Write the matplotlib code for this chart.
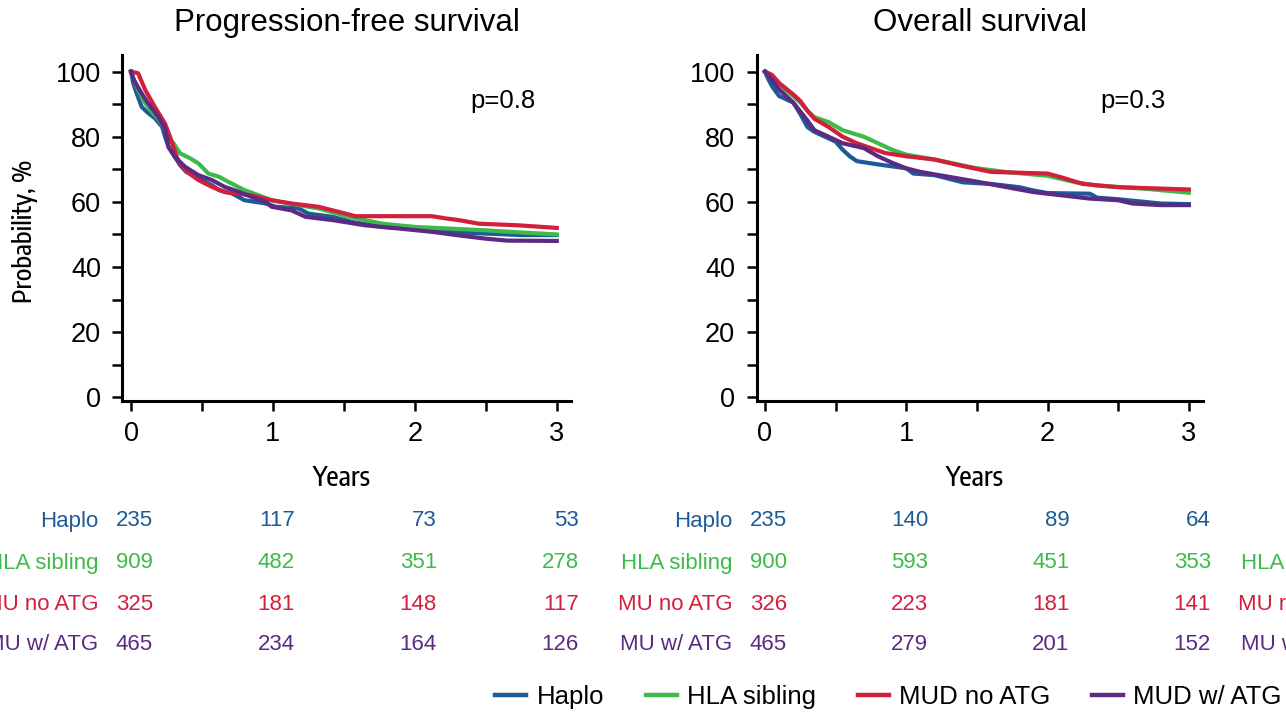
import matplotlib
matplotlib.use("Agg")
import matplotlib.pyplot as plt
from matplotlib import font_manager
from matplotlib.font_manager import FontProperties
from matplotlib.transforms import blended_transform_factory
from matplotlib.lines import Line2D

# ---------------- data ----------------
groups = ["Haplo", "HLA sibling", "MUD no ATG", "MUD w/ ATG"]
table_labels = ["Haplo", "HLA sibling", "MU no ATG", "MU w/ ATG"]
colors = ["#1d5a96", "#3dba4a", "#d21f3c", "#5b2a82"]
panel_titles = ["Progression-free survival", "Overall survival"]
p_values = ["p=0.8", "p=0.3"]
x_ticks = [0, 1, 2, 3]

# PFS curves (years, %)
haplo_pfs_t = [0, 0.016, 0.04, 0.075, 0.11, 0.17, 0.22, 0.24, 0.264, 0.3, 0.345, 0.39, 0.475, 0.57, 0.62, 0.71, 0.8, 0.95, 1.02, 1.18, 1.25, 1.42, 1.56, 1.77, 2.0, 2.24, 2.48, 2.75, 3.0]
haplo_pfs_s = [100, 96.4, 93.3, 89.2, 87.7, 85.6, 83, 80, 76.9, 74.4, 71.3, 69.2, 67.2, 65.1, 63.6, 62.6, 60.5, 59.5, 58.5, 58, 56.4, 55.4, 53.8, 52.3, 51.8, 50.8, 50.3, 49.8, 49.8]
sib_pfs_t = [0, 0.02, 0.05, 0.09, 0.14, 0.2, 0.24, 0.275, 0.3, 0.345, 0.42, 0.475, 0.545, 0.62, 0.71, 0.8, 0.9, 0.99, 1.18, 1.32, 1.53, 1.77, 2.0, 2.24, 2.48, 2.75, 3.0]
sib_pfs_s = [100, 97.5, 94.5, 91, 88, 85, 82.5, 79, 78, 74.9, 73.3, 71.8, 68.7, 67.7, 65.6, 63.6, 62, 60.5, 59, 58, 55.5, 53.3, 52.3, 51.8, 51.3, 50.6, 50]
mudno_pfs_t = [0, 0.05, 0.1, 0.17, 0.24, 0.275, 0.29, 0.33, 0.38, 0.475, 0.57, 0.66, 0.85, 0.99, 1.13, 1.32, 1.51, 1.58, 2.12, 2.22, 2.31, 2.45, 2.73, 3.0]
mudno_pfs_s = [100, 99.5, 94.4, 89, 84, 80, 78, 72.8, 69.7, 66.7, 64.6, 63, 62, 60.5, 59.5, 58.5, 56.4, 55.6, 55.6, 54.9, 54.4, 53.3, 52.8, 52]
mudatg_pfs_t = [0, 0.02, 0.075, 0.12, 0.19, 0.24, 0.264, 0.31, 0.38, 0.475, 0.57, 0.66, 0.76, 0.85, 0.95, 0.99, 1.13, 1.23, 1.42, 1.65, 1.89, 2.12, 2.31, 2.5, 2.65, 3.0]
mudatg_pfs_s = [100, 97.4, 93.3, 90.3, 86.2, 82.6, 76.9, 73.8, 70.8, 68.2, 66.7, 64.6, 63.1, 61.5, 60, 58.5, 57.4, 55.4, 54.4, 52.8, 51.8, 50.8, 49.7, 48.7, 48.1, 48]

# OS curves (years, %)
haplo_os_t = [0, 0.02, 0.05, 0.1, 0.15, 0.2, 0.25, 0.3, 0.35, 0.4, 0.5, 0.55, 0.6, 0.65, 0.8, 1.0, 1.05, 1.2, 1.4, 1.6, 1.8, 1.9, 2.0, 2.3, 2.35, 2.5, 2.8, 3.0]
haplo_os_s = [100, 98, 95.5, 92.5, 91.5, 90.5, 87, 83, 81.5, 80.5, 78.5, 76, 74, 72.5, 71.5, 70.3, 68.7, 68.2, 66, 65.5, 64.5, 63.5, 62.7, 62.5, 61.3, 60.8, 59.5, 59.3]
sib_os_t = [0, 0.05, 0.1, 0.2, 0.25, 0.3, 0.35, 0.45, 0.55, 0.7, 0.8, 0.9, 1.0, 1.2, 1.5, 1.7, 2.0, 2.2, 2.35, 2.7, 3.0]
sib_os_s = [100, 98.5, 96, 92.5, 90.5, 88, 86, 84.5, 82, 80, 78, 76, 74.5, 73, 70.3, 69.2, 68, 66, 65, 64, 62.8]
mudno_os_t = [0, 0.05, 0.1, 0.2, 0.25, 0.3, 0.35, 0.45, 0.55, 0.65, 0.75, 0.85, 1.0, 1.2, 1.4, 1.6, 2.0, 2.1, 2.25, 2.5, 3.0]
mudno_os_s = [100, 99, 96.5, 93, 91, 88, 85.5, 83, 80, 78, 76.5, 75, 74, 73, 71, 69.2, 68.7, 67.5, 65.5, 64.5, 63.8]
mudatg_os_t = [0, 0.02, 0.05, 0.1, 0.2, 0.3, 0.35, 0.45, 0.55, 0.7, 0.8, 0.9, 1.0, 1.1, 1.3, 1.5, 1.7, 1.9, 2.1, 2.3, 2.5, 2.6, 2.8, 3.0]
mudatg_os_s = [100, 99, 97.5, 94.5, 90.5, 85, 82, 80, 78, 76.5, 74, 72, 70.3, 69.2, 67.7, 66.2, 64.6, 63, 62, 61, 60.5, 59.5, 59, 59]

# numbers at risk
pfs_risk = [[235, 117, 73, 53], [909, 482, 351, 278], [325, 181, 148, 117], [465, 234, 164, 126]]
os_risk = [[235, 140, 89, 64], [900, 593, 451, 353], [326, 223, 181, 141], [465, 279, 201, 152]]

# ---------------- fonts ----------------
names = {f.name for f in font_manager.fontManager.ttflist}
main_font = "Liberation Sans" if "Liberation Sans" in names else "DejaVu Sans"
plt.rcParams["font.family"] = [main_font, "DejaVu Sans"]


def _stretch_val(s):
    if isinstance(s, int):
        return s
    m = {"ultra-condensed": 100, "extra-condensed": 200, "condensed": 300,
         "semi-condensed": 400, "normal": 500}
    return m.get(str(s), 500)


def _weight_val(w):
    if isinstance(w, int):
        return w
    m = {"light": 300, "normal": 400, "regular": 400, "book": 400, "medium": 500,
         "semibold": 600, "demibold": 600, "bold": 700, "heavy": 800, "black": 900}
    return m.get(str(w), 400)


narrow_file = None
best = None
for f in font_manager.fontManager.ttflist:
    nm = f.name
    st = _stretch_val(f.stretch)
    is_narrow = ("Narrow" in nm or "Condensed" in nm or "Compressed" in nm or st < 500
                 or "Condensed" in f.fname or "Narrow" in f.fname)
    if not is_narrow or f.style != "normal" or "Mono" in nm or "Serif" in nm:
        continue
    score = abs(_weight_val(f.weight) - 500) + (0 if "Sans" in nm or "Roboto" in nm else 50)
    if best is None or score < best[0]:
        best = (score, f.fname)
if best is not None:
    narrow_file = best[1]

W, H = 1286, 712
fig = plt.figure(figsize=(W / 100, H / 100), dpi=100)


def narrow_props(size):
    if narrow_file:
        return FontProperties(fname=narrow_file, size=size)
    return FontProperties(family=main_font, size=size)


xlim = (-0.06, 3.10)
ylim = (-1.0, 105.1)
ax_px = [(122.5, 571.0), (756.5, 1203.0)]
top_px, bot_px = 55.0, 400.5

panels = [
    [(haplo_pfs_t, haplo_pfs_s), (sib_pfs_t, sib_pfs_s), (mudno_pfs_t, mudno_pfs_s), (mudatg_pfs_t, mudatg_pfs_s)],
    [(haplo_os_t, haplo_os_s), (sib_os_t, sib_os_s), (mudno_os_t, mudno_os_s), (mudatg_os_t, mudatg_os_s)],
]
risks = [pfs_risk, os_risk]
row_y = [521, 563, 604, 645]
years_x_px = [341.5, 975.0]
p_x_px = [503.0, 1133.0]

renderer = fig.canvas.get_renderer()

axes = []
for i in range(2):
    l, r = ax_px[i]
    ax = fig.add_axes([l / W, 1 - bot_px / H, (r - l) / W, (bot_px - top_px) / H])
    axes.append(ax)
    for k, (t, s) in enumerate(panels[i]):
        ax.plot(t, s, color=colors[k], lw=3.0, solid_joinstyle="round")
    ax.set_xlim(*xlim)
    ax.set_ylim(*ylim)
    ax.set_xticks([0, 0.5, 1, 1.5, 2, 2.5, 3])
    ax.set_xticklabels(["0", "", "1", "", "2", "", "3"])
    ax.set_yticks(range(0, 101, 10))
    ax.set_yticklabels([str(v) if v % 20 == 0 else "" for v in range(0, 101, 10)])
    for sp in ["top", "right"]:
        ax.spines[sp].set_visible(False)
    for sp in ["left", "bottom"]:
        ax.spines[sp].set_linewidth(2.2)
    ax.tick_params(axis="both", direction="out", length=7.5, width=1.8, labelsize=19.5)
    ax.tick_params(axis="x", pad=7)
    ax.tick_params(axis="y", pad=8)
    ax.set_title(panel_titles[i], fontsize=22.5, pad=17)

    trp = blended_transform_factory(fig.transFigure, fig.transFigure)
    ax.text(p_x_px[i] / W, 1 - 101 / H, p_values[i], transform=trp, fontsize=18.5,
            ha="center", va="center")

    ax.set_xlabel("Years", fontproperties=narrow_props(23))
    ax.xaxis.set_label_coords((years_x_px[i] - l) / (r - l), (bot_px - 478) / (bot_px - top_px))
    ax.xaxis.label.set_va("center")
    w = ax.xaxis.label.get_window_extent(renderer).width
    if w > 58:
        ax.xaxis.label.set_fontproperties(narrow_props(23 * 58 / w))

    tr = blended_transform_factory(ax.transData, fig.transFigure)
    for k in range(4):
        yy = 1 - row_y[k] / H
        ax.text(-0.23, yy, table_labels[k], transform=tr, ha="right", va="center",
                color=colors[k], fontsize=16, clip_on=False)
        for j, xt in enumerate(x_ticks):
            ax.text(xt + 0.155, yy, str(risks[i][k][j]), transform=tr, ha="right", va="center",
                    color=colors[k], fontsize=16, clip_on=False)

# third (cropped) table labels at the right edge
tr = blended_transform_factory(axes[1].transData, fig.transFigure)
for k in range(4):
    yy = 1 - row_y[k] / H
    axes[1].text(4.16, yy, table_labels[k], transform=tr, ha="right", va="center",
                 color=colors[k], fontsize=16, clip_on=False)

ylab = fig.text(24.5 / W, 1 - 231.5 / H, "Probability, %", rotation=90, ha="center", va="center",
                fontproperties=narrow_props(23))
h = ylab.get_window_extent(renderer).height
if h > 143:
    ylab.set_fontproperties(narrow_props(23 * 143 / h))

handles = [Line2D([0], [0], color=c, lw=3.2) for c in colors]
fig.legend(handles, groups, loc="center", bbox_to_anchor=(888.5 / W, 1 - 697 / H), ncol=4,
           frameon=False, fontsize=18.5, handlelength=1.2, handletextpad=0.4, columnspacing=1.63)

fig.savefig("out.png", dpi=100)
